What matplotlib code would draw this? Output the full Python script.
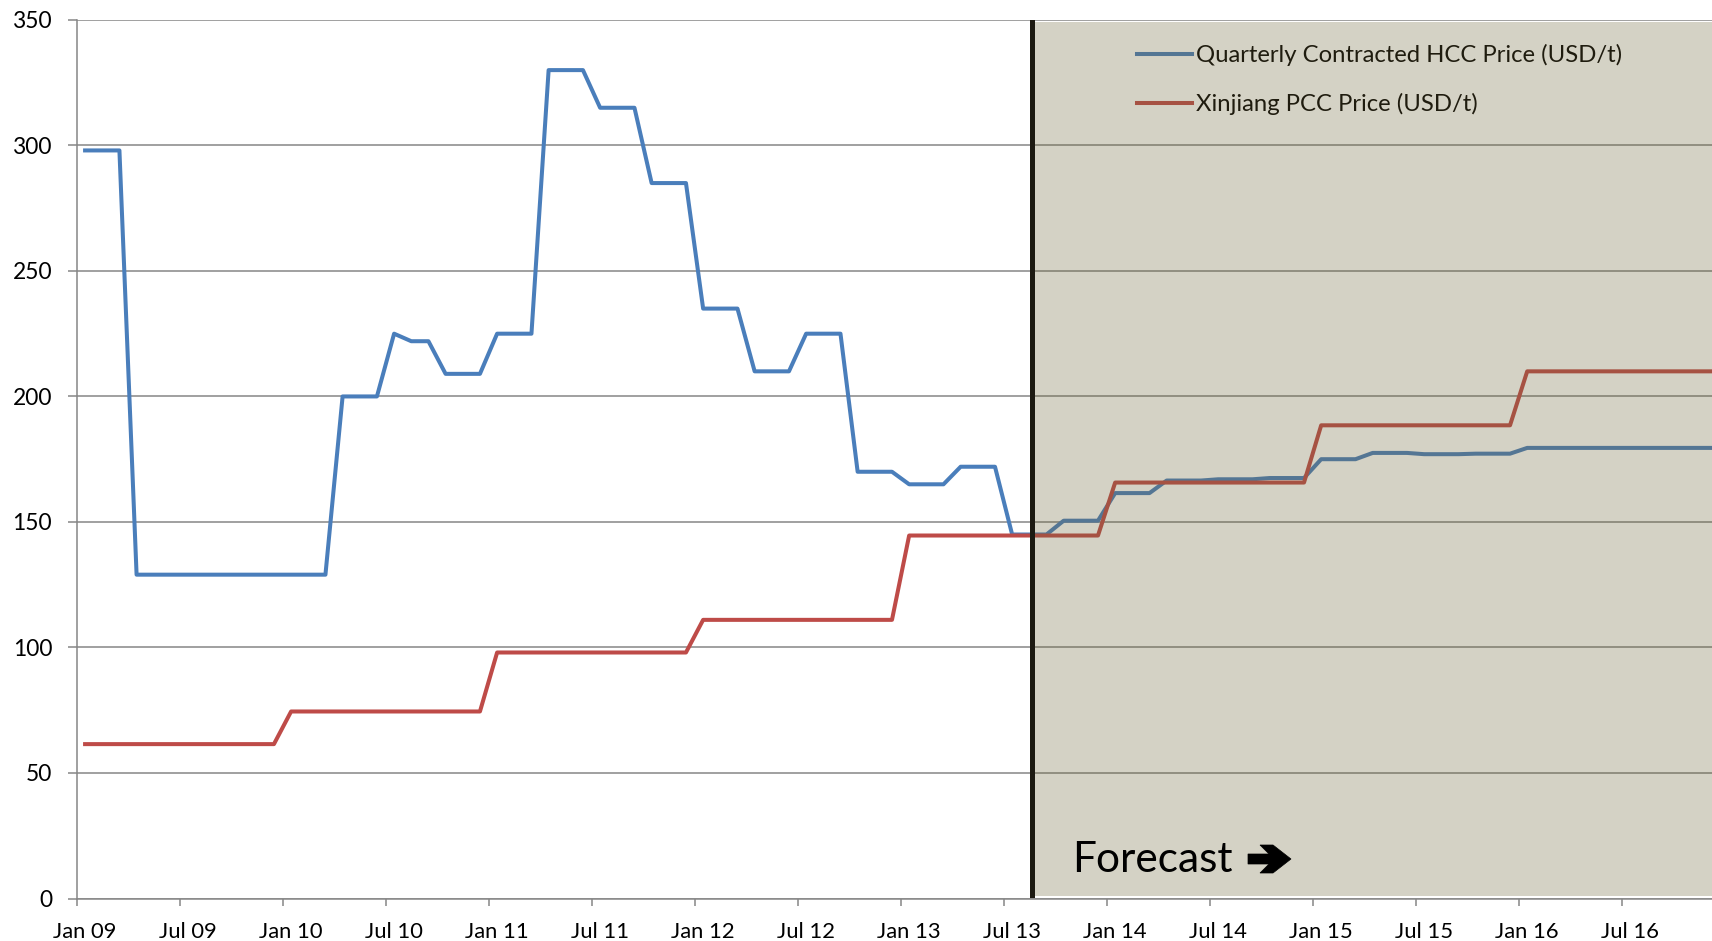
import matplotlib
matplotlib.use("Agg")
import matplotlib.pyplot as plt
from matplotlib.patches import Rectangle, Polygon
from matplotlib.transforms import IdentityTransform

FONT = ["Lato", "DejaVu Sans"]
plt.rcParams["font.family"] = FONT

# ---------------- data (monthly, Jan 09 .. Dec 16) ----------------
hcc_price = [
    298, 298, 298, 129, 129, 129, 129, 129, 129, 129, 129, 129,          # 2009
    129, 129, 129, 200, 200, 200, 225, 222, 222, 209, 209, 209,          # 2010
    225, 225, 225, 330, 330, 330, 315, 315, 315, 285, 285, 285,          # 2011
    235, 235, 235, 210, 210, 210, 225, 225, 225, 170, 170, 170,          # 2012
    165, 165, 165, 172, 172, 172, 145, 145, 145, 150.5, 150.5, 150.5,    # 2013
    161.5, 161.5, 161.5, 166.5, 166.5, 166.5, 167, 167, 167, 167.5, 167.5, 167.5,  # 2014
    175, 175, 175, 177.5, 177.5, 177.5, 177, 177, 177, 177.2, 177.2, 177.2,        # 2015
    179.5, 179.5, 179.5, 179.5, 179.5, 179.5, 179.5, 179.5, 179.5, 179.5, 179.5, 179.5,  # 2016
]
pcc_price = [
    61.5, 61.5, 61.5, 61.5, 61.5, 61.5, 61.5, 61.5, 61.5, 61.5, 61.5, 61.5,
    74.5, 74.5, 74.5, 74.5, 74.5, 74.5, 74.5, 74.5, 74.5, 74.5, 74.5, 74.5,
    98, 98, 98, 98, 98, 98, 98, 98, 98, 98, 98, 98,
    111, 111, 111, 111, 111, 111, 111, 111, 111, 111, 111, 111,
    144.6, 144.6, 144.6, 144.6, 144.6, 144.6, 144.6, 144.6, 144.6, 144.6, 144.6, 144.6,
    165.7, 165.7, 165.7, 165.7, 165.7, 165.7, 165.7, 165.7, 165.7, 165.7, 165.7, 165.7,
    188.5, 188.5, 188.5, 188.5, 188.5, 188.5, 188.5, 188.5, 188.5, 188.5, 188.5, 188.5,
    210, 210, 210, 210, 210, 210, 210, 210, 210, 210, 210, 210,
]
tick_labels = ["Jan 09", "Jul 09", "Jan 10", "Jul 10", "Jan 11", "Jul 11", "Jan 12",
               "Jul 12", "Jan 13", "Jul 13", "Jan 14", "Jul 14", "Jan 15", "Jul 15",
               "Jan 16", "Jul 16"]
series_names = ["Quarterly Contracted HCC Price (USD/t)", "Xinjiang PCC Price (USD/t)"]
y_ticks = [0, 50, 100, 150, 200, 250, 300, 350]
forecast_start = 55.15   # just after Aug 13

# ---------------- figure ----------------
W, H = 1712, 941
fig = plt.figure(figsize=(W / 100, H / 100), dpi=100)
fig.patch.set_facecolor("white")
left_px, right_px, top_px, bot_px = 76.5, 1712, 19.9, 898.5
ax = fig.add_axes([left_px / W, (H - bot_px) / H, (right_px - left_px) / W, (bot_px - top_px) / H])

months = list(range(len(hcc_price)))
month_px = 17.168
x_right = -0.5 + (right_px - left_px) / month_px

l1, = ax.plot(months, hcc_price, color="#4A7EBB", lw=2.9, zorder=3, label=series_names[0])
l2, = ax.plot(months, pcc_price, color="#BE4B48", lw=2.9, zorder=3.1, label=series_names[1])

ax.set_xlim(-0.5, x_right)
ax.set_ylim(0, 350)

# grid / spines
ax.set_axisbelow(True)
ax.yaxis.grid(True, color="#868686", lw=1.1)
for s in ["top", "right"]:
    ax.spines[s].set_visible(False)
for s in ["left", "bottom"]:
    ax.spines[s].set_color("#868686")
    ax.spines[s].set_linewidth(1.1)

ax.set_yticks(y_ticks)
ax.set_yticklabels([str(v) for v in y_ticks], family=FONT)
ax.tick_params(axis="y", length=6.5, width=1.1, color="#868686", pad=11,
               labelsize=16.4, labelcolor="black")

label_pos = [6 * k for k in range(len(tick_labels))]
ax.set_xticks([p - 0.5 for p in label_pos])
ax.set_xticklabels([""] * len(label_pos))
ax.set_xticks(label_pos, minor=True)
ax.set_xticklabels(tick_labels, minor=True, family=FONT)
ax.tick_params(axis="x", which="major", length=5, width=1.1, color="#868686")
ax.tick_params(axis="x", which="minor", length=0, pad=17, labelsize=15.8, labelcolor="black")

# legend (under the forecast overlay)
leg = ax.legend(handles=[l1, l2], loc="upper left",
                bbox_to_anchor=(1136.7 / W, 1 - 44 / H), bbox_transform=fig.transFigure,
                frameon=False, handlelength=2.3, handletextpad=0.2,
                labelspacing=1.12, borderpad=0, borderaxespad=0,
                prop={"family": FONT, "size": 17.2})
for t in leg.get_texts():
    t.set_color("black")
leg.set_zorder(3.5)

# forecast shading (semi-transparent overlay)
ax.add_patch(Rectangle((forecast_start, 1.0), x_right - forecast_start, 348.3,
                       facecolor=(110 / 255, 100 / 255, 55 / 255), alpha=0.29,
                       edgecolor="none", zorder=4))
ax.axvline(forecast_start, ymin=1.5 / 350, ymax=349 / 350, color="#1c1a12", lw=3.6, zorder=5)

fig.text(1072 / W, (H - 871.7) / H, "Forecast", fontsize=30.5, color="black",
         ha="left", va="baseline", family=FONT, zorder=6)

# heavy "Forecast" arrow (display-pixel coordinates)
yc = H - 859
arrow_pts = [(1248, yc - 5), (1269, yc - 5), (1260, yc - 14), (1273, yc - 14),
             (1291, yc), (1273, yc + 14), (1260, yc + 14), (1269, yc + 5), (1248, yc + 5)]
fig.add_artist(Polygon(arrow_pts, closed=True, facecolor="black", edgecolor="black",
                       lw=0.5, transform=IdentityTransform(), zorder=6))

fig.savefig("out.png", dpi=100)
